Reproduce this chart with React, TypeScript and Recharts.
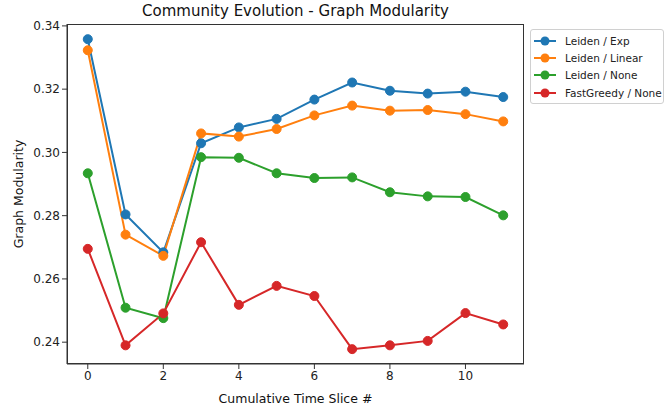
import { Line, LineChart, XAxis, YAxis } from "recharts";

const slices = [0, 1, 2, 3, 4, 5, 6, 7, 8, 9, 10, 11];
const leidenExp = [0.3358, 0.2804, 0.2684, 0.3029, 0.3079, 0.3106, 0.3167, 0.3221, 0.3195, 0.3186, 0.3192, 0.3175];
const leidenLinear = [0.3323, 0.274, 0.2673, 0.306, 0.305, 0.3074, 0.3117, 0.3148, 0.3132, 0.3134, 0.3121, 0.3098];
const leidenNone = [0.2934, 0.2509, 0.2476, 0.2985, 0.2983, 0.2934, 0.2919, 0.2921, 0.2874, 0.2861, 0.2859, 0.2801];
const fastGreedyNone = [0.2695, 0.239, 0.2491, 0.2716, 0.2518, 0.2578, 0.2546, 0.2378, 0.239, 0.2404, 0.2492, 0.2456];

const xTicks = [0, 2, 4, 6, 8, 10];
const yTicks = [0.24, 0.26, 0.28, 0.3, 0.32, 0.34];

const series = [
  { key: "exp", name: "Leiden / Exp", color: "#1f77b4", values: leidenExp },
  { key: "linear", name: "Leiden / Linear", color: "#ff7f0e", values: leidenLinear },
  { key: "none", name: "Leiden / None", color: "#2ca02c", values: leidenNone },
  { key: "fg", name: "FastGreedy / None", color: "#d62728", values: fastGreedyNone },
];

const data = slices.map((s, i) => {
  const row: Record<string, number> = { slice: s };
  series.forEach((sr) => {
    row[sr.key] = sr.values[i];
  });
  return row;
});

const FONT = "'DejaVu Sans', sans-serif";
const AXIS = "#333";

// plot box in page pixels (matches the matplotlib axes frame)
const PLOT = { left: 67, top: 24, right: 524, bottom: 364 };

function LegendBox() {
  return (
    <div
      style={{
        position: "absolute",
        left: 530,
        top: 29,
        boxSizing: "border-box",
        width: 134,
        height: 75,
        border: "1px solid #d0d0d0",
        borderRadius: 3,
        padding: "2px 0 0 2px",
        background: "#fff",
        fontFamily: FONT,
        fontSize: 10.5,
        color: "#222",
      }}
    >
      {series.map((s) => (
        <div key={s.key} style={{ display: "flex", alignItems: "center", height: 17.3 }}>
          <svg width={24} height={12} style={{ marginRight: 8 }}>
            <line x1={1} x2={23} y1={6} y2={6} stroke={s.color} strokeWidth={2} />
            <circle cx={12} cy={6} r={4.5} fill={s.color} />
          </svg>
          <span style={{ whiteSpace: "nowrap" }}>{s.name}</span>
        </div>
      ))}
    </div>
  );
}

export default function App() {
  return (
    <div style={{ position: "absolute", left: 0, top: 0, width: 664, height: 409, background: "#fff" }}>
      <div
        style={{
          position: "absolute",
          left: PLOT.left,
          width: PLOT.right - PLOT.left,
          top: 2,
          textAlign: "center",
          fontFamily: FONT,
          fontSize: 15,
          color: "#111",
        }}
      >
        Community Evolution - Graph Modularity
      </div>
      <LineChart
        width={664}
        height={409}
        data={data}
        margin={{ top: PLOT.top, right: 664 - PLOT.right, bottom: 0, left: 0 }}
      >
        <XAxis
          dataKey="slice"
          type="number"
          domain={[-0.55, 11.55]}
          ticks={xTicks}
          allowDataOverflow
          height={409 - PLOT.bottom}
          stroke={AXIS}
          tickSize={5}
          tick={{ fontSize: 12, fontFamily: FONT, fill: "#222" }}
          label={{
            value: "Cumulative Time Slice #",
            position: "insideBottom",
            offset: 6,
            style: { fontSize: 12.5, fontFamily: FONT, fill: "#111" },
          }}
        />
        <YAxis
          type="number"
          domain={[0.2331, 0.3406]}
          ticks={yTicks}
          allowDataOverflow
          width={PLOT.left}
          stroke={AXIS}
          tickSize={5}
          tickFormatter={(v: number) => v.toFixed(2)}
          tick={{ fontSize: 12, fontFamily: FONT, fill: "#222" }}
          label={{
            value: "Graph Modularity",
            angle: -90,
            position: "insideLeft",
            offset: 19,
            style: { textAnchor: "middle", fontSize: 12.5, fontFamily: FONT, fill: "#111" },
          }}
        />
        {series.map((s) => (
          <Line
            key={s.key}
            dataKey={s.key}
            name={s.name}
            type="linear"
            stroke={s.color}
            strokeWidth={2}
            dot={{ r: 4.5, fill: s.color, stroke: s.color, strokeWidth: 1 }}
            activeDot={false}
            isAnimationActive={false}
          />
        ))}
      </LineChart>
      <div
        style={{
          position: "absolute",
          left: PLOT.left,
          top: PLOT.top,
          width: PLOT.right - PLOT.left,
          height: PLOT.bottom - PLOT.top,
          boxSizing: "border-box",
          border: `1px solid ${AXIS}`,
          pointerEvents: "none",
        }}
      />
      <LegendBox />
    </div>
  );
}
